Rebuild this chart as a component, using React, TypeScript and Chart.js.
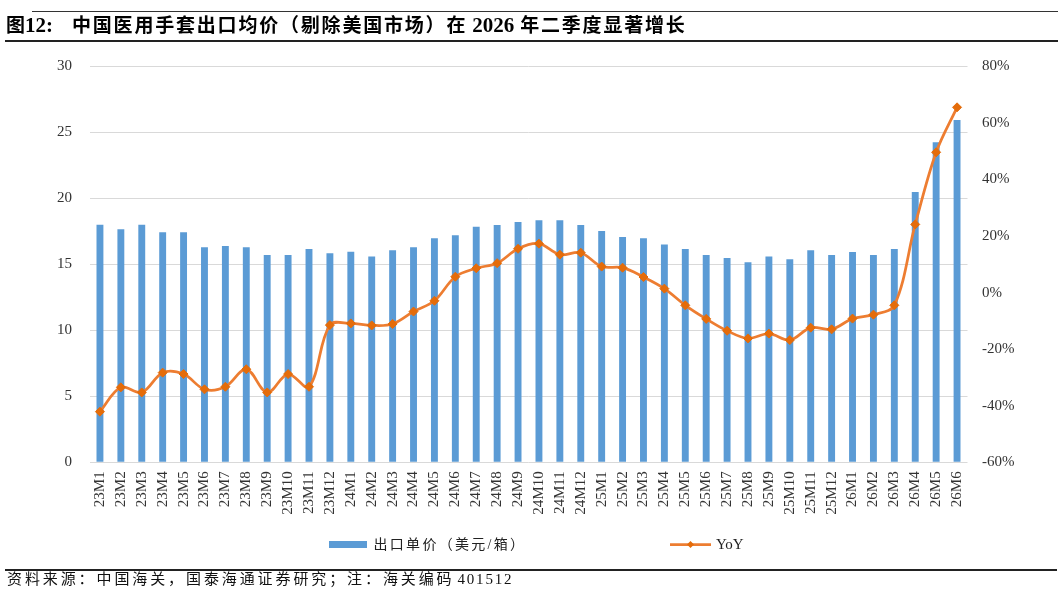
import React, { useEffect, useRef } from "react";
import { Chart, registerables } from "chart.js";

Chart.register(...registerables);

const categories = [
  "23M1", "23M2", "23M3", "23M4", "23M5", "23M6", "23M7", "23M8", "23M9", "23M10", "23M11", "23M12",
  "24M1", "24M2", "24M3", "24M4", "24M5", "24M6", "24M7", "24M8", "24M9", "24M10", "24M11", "24M12",
  "25M1", "25M2", "25M3", "25M4", "25M5", "25M6", "25M7", "25M8", "25M9", "25M10", "25M11", "25M12",
  "26M1", "26M2", "26M3", "26M4", "26M5", "26M6",
];

const unitPrice = [
  18.0, 17.65, 18.0, 17.42, 17.42, 16.29, 16.39, 16.29, 15.71, 15.71, 16.16, 15.83,
  15.96, 15.6, 16.06, 16.29, 16.97, 17.2, 17.85, 17.98, 18.2, 18.33, 18.33, 17.98,
  17.52, 17.07, 16.97, 16.5, 16.16, 15.71, 15.48, 15.15, 15.6, 15.38, 16.06, 15.71,
  15.93, 15.71, 16.16, 20.48, 24.24, 25.93,
];

const yoy = [
  -42.1, -33.5, -35.3, -28.3, -28.8, -34.2, -33.3, -27.1, -35.3, -28.8, -33.3, -11.5,
  -10.9, -11.6, -11.1, -6.7, -2.9, 5.6, 8.6, 10.4, 15.5, 17.3, 13.4, 14.1,
  9.2, 8.8, 5.5, 1.4, -4.5, -9.3, -13.5, -16.2, -14.5, -16.8, -12.4, -13.0,
  -9.2, -7.8, -4.5, 24.1, 49.6, 65.5,
];

const leftTicks = [0, 5, 10, 15, 20, 25, 30];
const rightTicks = [-60, -40, -20, 0, 20, 40, 60, 80];

const barLabel = "出口单价（美元/箱）";
const lineLabel = "YoY";
const titleNo = "12:";
const titlePart1 = "中国医用手套出口均价（剔除美国市场）在";
const titleYear = "2026";
const titlePart2 = "年二季度显著增长";
const sourcePart = "资料来源：中国海关，国泰海通证券研究；注：海关编码";
const sourceCode = "401512";

const BAR_COLOR = "#5B9BD5";
const LINE_COLOR = "#ED7D31";
const MARK_COLOR = "#E46C0A";
const FONT = '"Liberation Serif", "Noto Sans CJK SC", serif';

const legendPlugin = {
  id: "customLegend",
  afterDraw(chart: any) {
    const ctx = chart.ctx;
    const cx = chart.width / 2;
    const y = 544.5;
    ctx.save();
    ctx.fillStyle = BAR_COLOR;
    ctx.fillRect(cx - 202.5, y - 3.5, 38, 7);
    ctx.fillStyle = "#222";
    ctx.font = `14px ${FONT}`;
    ctx.textBaseline = "middle";
    ctx.textAlign = "left";
    (ctx as any).letterSpacing = "2.3px";
    ctx.fillText(barLabel, cx - 158, y + 1);
    ctx.strokeStyle = LINE_COLOR;
    ctx.lineWidth = 2.75;
    ctx.beginPath();
    ctx.moveTo(cx + 138.5, y);
    ctx.lineTo(cx + 179.5, y);
    ctx.stroke();
    ctx.fillStyle = MARK_COLOR;
    ctx.beginPath();
    const m = cx + 159;
    ctx.moveTo(m, y - 3.5);
    ctx.lineTo(m + 3.5, y);
    ctx.lineTo(m, y + 3.5);
    ctx.lineTo(m - 3.5, y);
    ctx.closePath();
    ctx.fill();
    (ctx as any).letterSpacing = "0px";
    ctx.fillStyle = "#222";
    ctx.font = `15px ${FONT}`;
    ctx.fillText(lineLabel, cx + 184.5, y + 1);
    ctx.restore();
  },
};

export default function App() {
  const canvasRef = useRef<HTMLCanvasElement | null>(null);

  useEffect(() => {
    const canvas = canvasRef.current;
    if (!canvas) return;
    const xAxisHeight = 80;
    const chart = new Chart(canvas, {
      type: "bar",
      data: {
        labels: categories,
        datasets: [
          {
            type: "line",
            label: lineLabel,
            data: yoy,
            yAxisID: "y1",
            borderColor: LINE_COLOR,
            borderWidth: 2.75,
            pointStyle: "rectRot",
            pointRadius: 4.5,
            pointBackgroundColor: MARK_COLOR,
            pointBorderColor: MARK_COLOR,
            pointBorderWidth: 1,
            tension: 0.35,
            order: 0,
          } as any,
          {
            type: "bar",
            label: barLabel,
            data: unitPrice,
            yAxisID: "y",
            backgroundColor: BAR_COLOR,
            barPercentage: 0.33,
            categoryPercentage: 1,
            order: 1,
          } as any,
        ],
      },
      options: {
        responsive: false,
        animation: false,
        layout: {
          padding: { top: 66.3, left: 0, right: 0, bottom: 593 - 462.3 - xAxisHeight },
        },
        plugins: {
          legend: { display: false },
          tooltip: { enabled: false },
        },
        scales: {
          x: {
            grid: { display: false, drawTicks: false },
            border: { display: false },
            ticks: {
              autoSkip: false,
              maxRotation: 90,
              minRotation: 90,
              padding: 9,
              color: "#333",
              font: { family: FONT, size: 15 },
            },
            afterFit: (s: any) => {
              s.height = xAxisHeight;
            },
          },
          y: {
            position: "left",
            min: 0,
            max: 30,
            grid: { color: "#D9D9D9", lineWidth: 1, drawTicks: false },
            border: { display: false },
            ticks: {
              padding: 17.5,
              color: "#333",
              font: { family: FONT, size: 15 },
            },
            afterBuildTicks: (s: any) => {
              s.ticks = leftTicks.map((v) => ({ value: v }));
            },
            afterFit: (s: any) => {
              s.width = 89.5;
            },
          },
          y1: {
            position: "right",
            min: -60,
            max: 80,
            grid: { display: false, drawTicks: false },
            border: { display: false },
            ticks: {
              padding: 14.5,
              color: "#333",
              font: { family: FONT, size: 15 },
              callback: (v: any) => `${v}%`,
            },
            afterBuildTicks: (s: any) => {
              s.ticks = rightTicks.map((v) => ({ value: v }));
            },
            afterFit: (s: any) => {
              s.width = 1063 - 967.5;
            },
          },
        },
      } as any,
      plugins: [legendPlugin],
    });
    return () => chart.destroy();
  }, []);

  return (
    <div
      style={{
        position: "fixed",
        left: 0,
        top: 0,
        width: 1063,
        height: 593,
        background: "#fff",
        overflow: "hidden",
      }}
    >
      <canvas
        ref={canvasRef}
        width={1063}
        height={593}
        style={{ position: "absolute", left: 0, top: 0, width: 1063, height: 593 }}
      />
      <div style={{ position: "absolute", left: 32, top: 10.5, width: 1026, height: 1, background: "#333" }} />
      <div
        style={{
          position: "absolute",
          left: 6,
          top: 13,
          height: 24,
          lineHeight: "24px",
          fontFamily: FONT,
          fontSize: 19,
          fontWeight: 700,
          color: "#000",
          whiteSpace: "nowrap",
        }}
      >
        <span>图</span>
        <span style={{ fontSize: 21 }}>{titleNo}</span>
        <span style={{ marginLeft: 19, letterSpacing: "1.8px" }}>{titlePart1}</span>
        <span style={{ marginLeft: 5, fontSize: 21 }}>{titleYear}</span>
        <span style={{ marginLeft: 6, letterSpacing: "1.8px" }}>{titlePart2}</span>
      </div>
      <div style={{ position: "absolute", left: 5, top: 39.5, width: 1053, height: 2, background: "#222" }} />
      <div style={{ position: "absolute", left: 5, top: 568.5, width: 1052, height: 2, background: "#222" }} />
      <div
        style={{
          position: "absolute",
          left: 7,
          top: 570,
          height: 19,
          lineHeight: "19px",
          fontFamily: FONT,
          fontSize: 15,
          color: "#111",
          whiteSpace: "nowrap",
        }}
      >
        <span style={{ letterSpacing: "2.9px" }}>{sourcePart}</span>
        <span style={{ marginLeft: 3, letterSpacing: "1.8px" }}>{sourceCode}</span>
      </div>
    </div>
  );
}
